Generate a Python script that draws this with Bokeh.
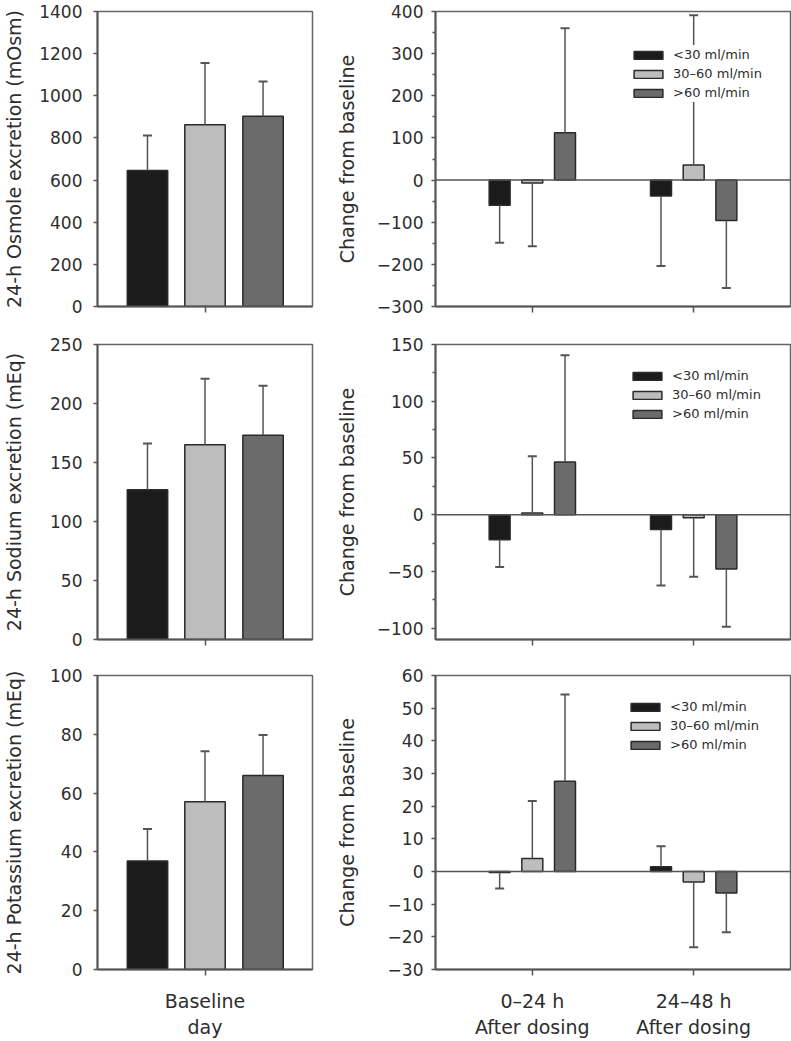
from bokeh.plotting import figure
from bokeh.models import (FixedTicker, CustomJSTickFormatter, Span, Legend,
                          LegendItem, Range1d)
from bokeh.layouts import column, row
from bokeh.embed import file_html
from bokeh.resources import INLINE

# ---------------- data ----------------
groups = ["<30 ml/min", "30\u201360 ml/min", ">60 ml/min"]
baseline_label = ["Baseline\nday"]
after_labels = ["0\u201324 h\nAfter dosing", "24\u201348 h\nAfter dosing"]

# baseline day (mean, SD) for <30, 30-60, >60 ml/min
osm_base_mean = [645, 862, 903]
osm_base_sd = [166, 294, 165]
na_base_mean = [127, 165, 173]
na_base_sd = [39, 56, 42]
k_base_mean = [36.9, 57.1, 66.0]
k_base_sd = [10.9, 17.1, 13.8]

# change from baseline: one list per renal group, values for [0-24 h, 24-48 h]
osm_chg_mean = [[-60, -38], [-7, 36], [112, -96]]
osm_chg_sd = [[89, 166], [150, 355], [248, 160]]
na_chg_mean = [[-22, -13], [1.4, -2.7], [46.5, -47.8]]
na_chg_sd = [[24, 49.5], [50, 52], [94, 51]]
k_chg_mean = [[-0.3, 1.45], [4.0, -3.2], [27.6, -6.6]]
k_chg_sd = [[4.9, 6.3], [17.6, 20.0], [26.6, 12.0]]

# axes
osm_ticks = [0, 200, 400, 600, 800, 1000, 1200, 1400]
na_ticks = [0, 50, 100, 150, 200, 250]
k_ticks = [0, 20, 40, 60, 80, 100]
osm_chg_ticks = [-300, -200, -100, 0, 100, 200, 300, 400]
osm_chg_minor = [-250, -150, -50, 50, 150, 250, 350]
na_chg_ticks = [-100, -50, 0, 50, 100, 150]
na_chg_minor = [-75, -25, 25, 75, 125]
k_chg_ticks = [-30, -20, -10, 0, 10, 20, 30, 40, 50, 60]

osm_label = "24-h Osmole excretion (mOsm)"
na_label = "24-h Sodium excretion (mEq)"
k_label = "24-h Potassium excretion (mEq)"
chg_label = "Change from baseline"

# ---------------- style ----------------
FONT = "DejaVu Sans"
TXT = "#2e2e2e"
AX = "#555555"
colors = ["#1b1b1b", "#bdbdbd", "#6b6b6b"]
BAR_LINE = "#2a2a2a"
ERR = "#555555"

minus_fmt = CustomJSTickFormatter(
    code="return (tick < 0) ? '\u2212' + Math.abs(tick) : tick.toString();")

LW, RW = 330, 461
ROW_H = [326, 331, 383]
TOPB = [11, 18, 18]
BOTB = [20, 18, 69]


def style(p, yticks, yminor, ylabel, lab_standoff, tick_standoff, xticks, xlabels, show_x):
    p.outline_line_color = "#666666"
    p.outline_line_width = 1.5
    p.xgrid.visible = False
    p.ygrid.visible = False
    p.background_fill_color = "white"
    p.border_fill_color = "white"

    ya = p.yaxis[0]
    ya.ticker = FixedTicker(ticks=yticks, minor_ticks=yminor)
    ya.formatter = minus_fmt
    ya.axis_label = ylabel
    ya.axis_label_text_font = FONT
    ya.axis_label_text_font_size = "19px"
    ya.axis_label_text_font_style = "normal"
    ya.axis_label_text_color = TXT
    ya.axis_label_standoff = lab_standoff
    ya.major_label_text_font = FONT
    ya.major_label_text_font_size = "17px"
    ya.major_label_text_color = TXT
    ya.major_label_standoff = tick_standoff
    ya.axis_line_color = AX
    ya.axis_line_width = 2
    ya.major_tick_line_color = AX
    ya.major_tick_line_width = 1.5
    ya.major_tick_out = 4
    ya.major_tick_in = 0
    ya.minor_tick_line_color = AX
    ya.minor_tick_line_width = 1.5
    ya.minor_tick_out = 3
    ya.minor_tick_in = 0

    xa = p.xaxis[0]
    xa.ticker = FixedTicker(ticks=xticks, minor_ticks=[])
    xa.axis_line_color = AX
    xa.axis_line_width = 2
    xa.major_tick_line_color = AX
    xa.major_tick_line_width = 1.5
    xa.major_tick_out = 6
    xa.major_tick_in = 0
    xa.minor_tick_line_color = None
    if show_x:
        xa.major_label_overrides = {t: lab for t, lab in zip(xticks, xlabels)}
        xa.major_label_text_font = FONT
        xa.major_label_text_font_size = "19px"
        xa.major_label_text_color = TXT
        xa.major_label_standoff = 14
    else:
        xa.major_label_overrides = {t: "" for t in xticks}
        xa.major_label_text_font_size = "0px"
        xa.major_label_standoff = 0


def base_panel(r, means, sds, yrange, yticks, ylabel, lab_standoff):
    p = figure(width=LW, height=ROW_H[r], x_range=Range1d(0, 2),
               y_range=Range1d(*yrange), output_backend="svg",
               toolbar_location=None, min_border_left=97, min_border_right=18,
               min_border_top=TOPB[r], min_border_bottom=BOTB[r])
    offs = [-0.535, 0.0, 0.54]
    xs = [1 + o for o in offs]
    p.vbar(x=xs, top=means, bottom=0, width=0.376, fill_color=colors,
           line_color=BAR_LINE, line_width=1.5)
    ends = [m + s for m, s in zip(means, sds)]
    p.segment(x0=xs, y0=means, x1=xs, y1=ends, line_color=ERR, line_width=1.5)
    p.scatter(x=xs, y=ends, marker="dash", size=9, line_color=ERR, line_width=2)
    style(p, yticks, [], ylabel, lab_standoff, 11, [1], baseline_label, r == 2)
    return p


def change_panel(r, means, sds, yrange, yticks, yminor, lab_standoff, leg_xy):
    p = figure(width=RW, height=ROW_H[r], x_range=Range1d(0.4, 2.6),
               y_range=Range1d(*yrange), output_backend="svg",
               toolbar_location=None, min_border_left=105, min_border_right=1,
               min_border_top=TOPB[r], min_border_bottom=BOTB[r])
    p.add_layout(Span(location=0, dimension="width", line_color=AX, line_width=1.5))
    offs = [-0.2025, 0.0, 0.2025]
    rends = []
    for g in range(3):
        xs = [1 + offs[g], 2 + offs[g]]
        m = means[g]
        s = sds[g]
        rb = p.vbar(x=xs, top=m, bottom=0, width=0.13, fill_color=colors[g],
                    line_color=BAR_LINE, line_width=1.5)
        rends.append(rb)
        ends = [mm + (ss if mm >= 0 else -ss) for mm, ss in zip(m, s)]
        p.segment(x0=xs, y0=m, x1=xs, y1=ends, line_color=ERR, line_width=1.5)
        p.scatter(x=xs, y=ends, marker="dash", size=9, line_color=ERR, line_width=2)
    style(p, yticks, yminor, chg_label, lab_standoff, 8, [1, 2], after_labels, r == 2)
    leg = Legend(items=[LegendItem(label=g, renderers=[rr]) for g, rr in zip(groups, rends)],
                 location=leg_xy, glyph_width=36, glyph_height=10, label_height=19,
                 label_standoff=7, spacing=0, padding=10, margin=0,
                 label_text_font=FONT, label_text_font_size="13px",
                 label_text_color=TXT, border_line_color=None,
                 background_fill_color="white", background_fill_alpha=1.0)
    p.add_layout(leg)
    return p


p1 = base_panel(0, osm_base_mean, osm_base_sd, (0, 1400), osm_ticks, osm_label, 11)
p2 = change_panel(0, osm_chg_mean, osm_chg_sd, (-300, 400), osm_chg_ticks, osm_chg_minor, 16, (195, 204))
p3 = base_panel(1, na_base_mean, na_base_sd, (0, 250), na_ticks, na_label, 22)
p4 = change_panel(1, na_chg_mean, na_chg_sd, (-110, 150), na_chg_ticks, na_chg_minor, 16, (194, 216))
p5 = base_panel(2, k_base_mean, k_base_sd, (0, 100), k_ticks, k_label, 22)
p6 = change_panel(2, k_chg_mean, k_chg_sd, (-30, 60), k_chg_ticks, [], 27, (192, 215))

layout = column(row(p1, p2), row(p3, p4), row(p5, p6))

with open("out.html", "w", encoding="utf-8") as f:
    f.write(file_html(layout, INLINE))
